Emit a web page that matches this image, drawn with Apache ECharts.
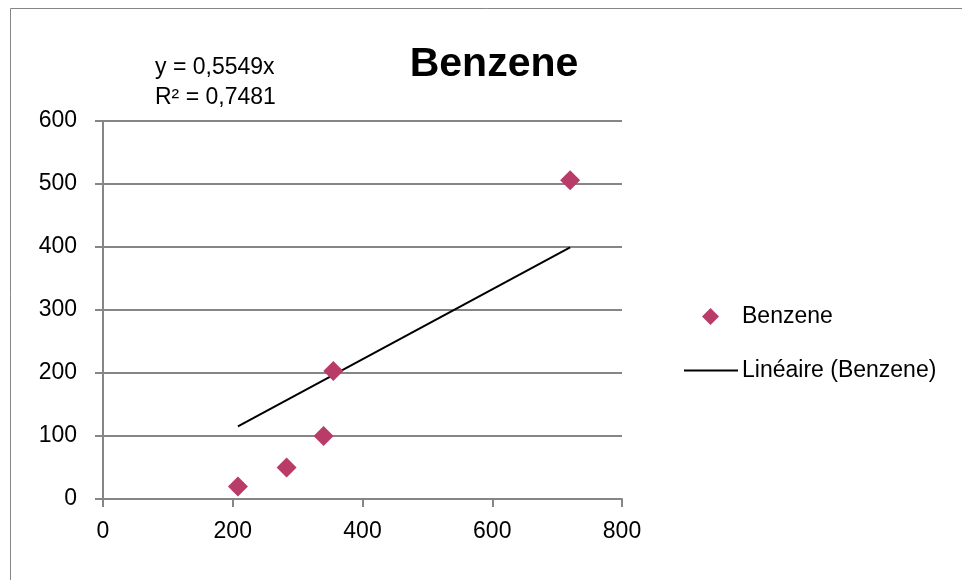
<!DOCTYPE html>
<html><head><meta charset="utf-8">
<script src="https://cdn.jsdelivr.net/npm/echarts@6/dist/echarts.min.js"></script>
<style>html,body{margin:0;padding:0;background:#fff}#c{width:962px;height:580px}</style>
</head><body><div id="c"></div>
<script>
const seriesName = 'Benzene';
const trendName = 'Linéaire (Benzene)';
const xValues = [208, 283, 340, 355, 720];
const yValues = [20, 50, 100, 203, 506];
const slope = 0.5549;
const r2 = '0,7481';
const xTicks = [0, 200, 400, 600, 800];
const yTicks = [0, 100, 200, 300, 400, 500, 600];

const pts = xValues.map((x, i) => [x, yValues[i]]);
const xmin = Math.min(...xValues), xmax = Math.max(...xValues);
const trend = [[xmin, slope * xmin], [xmax, slope * xmax]];
const FONT = '"Liberation Sans", Arial, sans-serif';

const chart = echarts.init(document.getElementById('c'), null, {renderer: 'canvas'});
chart.setOption({
  animation: false,
  backgroundColor: '#fff',
  title: {
    text: 'Benzene', left: 489, top: 39, textAlign: 'center',
    textStyle: {fontFamily: FONT, fontWeight: 'bold', fontSize: 41, color: '#000'}
  },
  graphic: [
    {type: 'rect', shape: {x: 10.5, y: 8.5, width: 1000, height: 700}, style: {fill: 'none', stroke: '#868686', lineWidth: 1}, silent: true},
    {type: 'text', left: 155, top: 56, style: {text: 'y = ' + String(slope).replace('.', ',') + 'x', font: '23px ' + FONT, fill: '#000'}},
    {type: 'text', left: 155, top: 86, style: {text: 'R² = ' + r2, font: '23px ' + FONT, fill: '#000'}}
  ],
  grid: {left: 103, right: 340, top: 121, bottom: 81, containLabel: false},
  xAxis: {
    type: 'value', min: xTicks[0], max: xTicks[xTicks.length - 1], interval: 200,
    axisLine: {show: true, onZero: false, lineStyle: {color: '#868686', width: 2}},
    axisTick: {show: true, length: 8, lineStyle: {color: '#868686', width: 2}},
    axisLabel: {margin: 21, fontFamily: FONT, fontSize: 23, color: '#000'},
    splitLine: {show: false}
  },
  yAxis: {
    type: 'value', min: yTicks[0], max: yTicks[yTicks.length - 1], interval: 100,
    axisLine: {show: true, lineStyle: {color: '#868686', width: 2}},
    axisTick: {show: true, length: 8, lineStyle: {color: '#868686', width: 2}},
    axisLabel: {margin: 26, fontFamily: FONT, fontSize: 23, color: '#000'},
    splitLine: {show: true, lineStyle: {color: '#868686', width: 2}}
  },
  legend: [
    {data: [{name: seriesName, icon: 'diamond'}], orient: 'vertical', left: 702, top: 305, padding: 0,
     itemWidth: 17, itemHeight: 17,
     textStyle: {fontFamily: FONT, fontSize: 23, color: '#000', padding: [0, 0, 0, 18]}},
    {data: [{name: trendName, icon: 'path://M0,0L54,0L54,2L0,2Z'}], orient: 'vertical', left: 684, top: 359, padding: 0,
     itemWidth: 54, itemHeight: 2,
     textStyle: {fontFamily: FONT, fontSize: 23, color: '#000', padding: [0, 0, 0, -1]}}
  ],
  series: [
    {name: seriesName, type: 'scatter', data: pts, symbol: 'diamond', symbolSize: 20,
     itemStyle: {color: '#B93B68', opacity: 1}, z: 3},
    {name: trendName, type: 'line', data: trend, showSymbol: false, symbol: 'none',
     lineStyle: {color: '#000', width: 2}, itemStyle: {color: '#000'}, z: 2}
  ]
});
</script></body></html>
